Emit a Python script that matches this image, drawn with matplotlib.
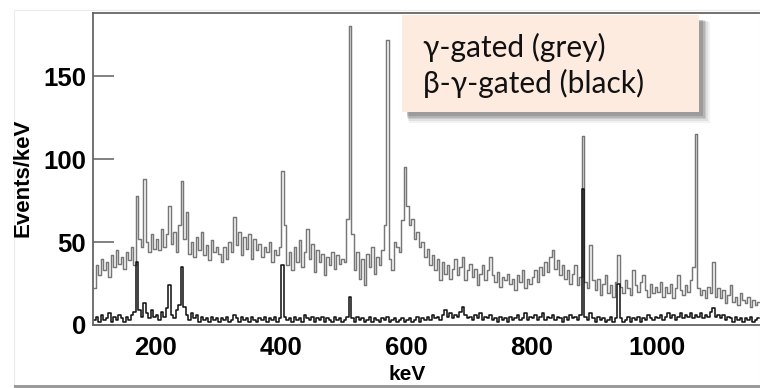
import numpy as np
import matplotlib
matplotlib.use("Agg")
import matplotlib.pyplot as plt
from matplotlib.patches import Rectangle

# ---- data (bin centres every 4 keV, from 102 to 1162 keV) ----
energy_start = 102
energy_step = 4

grey_counts = [
    # 100-200
    22, 36, 30, 40, 33, 38, 29, 42, 35, 45, 37, 41, 34, 44, 39, 47, 36, 78, 52, 47, 88, 50, 44, 55, 46,
    # 200-300
    52, 45, 58, 47, 55, 72, 49, 56, 44, 60, 87, 52, 68, 43, 50, 41, 53, 45, 56, 42, 48, 39, 51, 44, 47,
    # 300-400
    43, 38, 47, 40, 50, 44, 65, 48, 56, 42, 53, 46, 55, 40, 52, 45, 49, 41, 47, 44, 50, 38, 45, 42, 47,
    # 400-500
    93, 60, 36, 44, 33, 47, 38, 51, 35, 44, 58, 40, 49, 32, 45, 38, 43, 30, 41, 36, 44, 34, 42, 37, 40,
    # 500-600
    38, 64, 180, 55, 33, 44, 28, 40, 24, 43, 35, 47, 31, 41, 36, 45, 60, 172, 40, 33, 50, 47, 44, 63, 95,
    # 600-700
    72, 60, 64, 52, 56, 47, 50, 41, 46, 36, 42, 33, 40, 27, 38, 31, 36, 28, 34, 40, 30, 35, 41, 27, 33,
    # 700-800
    37, 29, 34, 24, 31, 36, 27, 33, 41, 30, 26, 32, 23, 29, 27, 31, 25, 28, 21, 30, 26, 33, 22, 28, 25,
    # 800-900
    29, 33, 26, 35, 30, 38, 32, 41, 45, 34, 39, 30, 36, 28, 33, 25, 31, 36, 24, 29, 114, 26, 22, 48, 27,
    # 900-1000
    21, 28, 18, 25, 30, 19, 24, 17, 26, 42, 23, 19, 27, 22, 18, 33, 24, 20, 26, 30, 21, 17, 25, 19, 23,
    # 1000-1100
    20, 26, 17, 23, 19, 25, 16, 22, 30, 21, 18, 24, 20, 27, 35, 115, 22, 18, 21, 16, 23, 19, 38, 17, 22,
    # 1100-1164
    16, 21, 13, 18, 24, 14, 17, 12, 19, 15, 13, 17, 11, 15, 12, 14,
]

black_counts = [
    # 100-200
    3, 5, 2, 6, 3, 4, 7, 2, 5, 3, 6, 4, 2, 5, 3, 6, 8, 38, 9, 5, 13, 7, 4, 9, 5,
    # 200-300
    6, 3, 8, 5, 10, 24, 6, 4, 9, 12, 35, 11, 6, 3, 7, 4, 6, 2, 5, 3, 4, 2, 5, 3, 4,
    # 300-400
    2, 4, 3, 5, 2, 3, 6, 4, 2, 5, 3, 4, 2, 5, 3, 2, 4, 3, 5, 2, 4, 3, 5, 2, 4,
    # 400-500
    36, 5, 3, 4, 2, 5, 3, 4, 2, 6, 4, 3, 5, 2, 4, 3, 5, 2, 4, 3, 2, 5, 3, 4, 2,
    # 500-600
    3, 5, 17, 4, 2, 5, 3, 4, 2, 3, 5, 2, 4, 3, 2, 4, 3, 5, 2, 3, 4, 2, 3, 4, 2,
    # 600-700
    3, 4, 2, 3, 5, 2, 4, 3, 5, 3, 6, 4, 5, 3, 6, 9, 5, 7, 4, 6, 5, 8, 11, 6, 4,
    # 700-800
    5, 3, 6, 4, 7, 3, 5, 4, 6, 3, 4, 2, 5, 3, 4, 2, 5, 3, 4, 6, 3, 4, 7, 3, 5,
    # 800-900
    4, 6, 3, 5, 7, 3, 5, 4, 6, 3, 5, 4, 2, 5, 3, 6, 4, 5, 3, 6, 82, 5, 3, 7, 4,
    # 900-1000
    2, 5, 3, 4, 2, 3, 5, 2, 4, 25, 4, 2, 3, 5, 2, 4, 3, 5, 2, 4, 3, 6, 4, 3, 5,
    # 1000-1100
    4, 6, 3, 5, 7, 4, 6, 3, 5, 7, 4, 6, 5, 7, 4, 6, 5, 7, 4, 6, 5, 8, 10, 5, 6,
    # 1100-1164
    4, 6, 3, 5, 4, 2, 5, 3, 4, 2, 4, 3, 5, 2, 3, 4,
]

y_ticks = [0, 50, 100, 150]
x_ticks = [200, 400, 600, 800, 1000]
legend_lines = ["γ-gated (grey)", "β-γ-gated (black)"]

energy = energy_start + energy_step * np.arange(len(grey_counts))

# ---- figure ----
W, H = 760, 388
fig = plt.figure(figsize=(W / 100, H / 100), dpi=100)

# faint outer frame of the original slide picture
fig.patches.append(Rectangle((14 / W, 2 / H), 1 - 14 / W, (378 - 2) / H,
                             transform=fig.transFigure, fill=False,
                             edgecolor="#ececec", lw=0.8, zorder=0))
fig.patches.append(Rectangle((14 / W, 0), 1 - 14 / W, 3 / H,
                             transform=fig.transFigure, facecolor="#9a9a9a",
                             edgecolor="none", zorder=0))

ax = fig.add_axes([93 / W, (H - 325) / H, 1 - 93 / W, (325 - 13) / H])
ax.step(energy, grey_counts, where="mid", color="#777777", lw=1.05)
ax.step(energy, black_counts, where="mid", color="#0d0d0d", lw=1.1)

ax.set_xlim(100, 1164)
ax.set_ylim(0, 188)
ax.set_xticks(x_ticks)
ax.set_yticks(y_ticks)

for s in ["left", "bottom", "top"]:
    ax.spines[s].set_color("#666666")
    ax.spines[s].set_linewidth(1.3)
ax.spines["right"].set_visible(False)

ax.tick_params(axis="y", direction="in", length=15, width=1.3, color="#777777",
               pad=5, labelsize=18.5)
ax.tick_params(axis="x", length=0, pad=8, labelsize=18.5)
for lab in ax.get_xticklabels() + ax.get_yticklabels():
    lab.set_fontfamily("Liberation Sans")
    lab.set_fontweight("bold")

fig.text(23 / W, 1 - 178 / H, "Events/keV", rotation=90, ha="center", va="center",
         fontsize=16, fontweight="bold", family="Liberation Sans")
fig.text(407 / W, 1 - 375 / H, "keV", ha="center", va="center",
         fontsize=15, fontweight="bold", family="Liberation Sans")

# legend box with soft shadow
bx0, by0, bx1, by1 = 402, 15, 699, 112
for i, a in enumerate([0.05, 0.07, 0.09, 0.11, 0.13]):
    off = 8 - i * 1.2
    grow = 3 - i * 0.6
    fig.patches.append(Rectangle(((bx0 + off - grow + 2) / W, (H - by1 - off - grow) / H),
                                 (bx1 - bx0 + 2 * grow - 2) / W, (by1 - by0 + 2 * grow - 2) / H,
                                 transform=fig.transFigure, facecolor="black",
                                 edgecolor="none", alpha=a, zorder=5))
fig.patches.append(Rectangle((bx0 / W, (H - by1) / H), (bx1 - bx0) / W, (by1 - by0) / H,
                             transform=fig.transFigure, facecolor="#fdebe0",
                             edgecolor="none", zorder=6))
fig.text(423 / W, 1 - 47 / H, legend_lines[0], ha="left", va="center",
         fontsize=21.5, family=["Lato", "DejaVu Sans"], color="#111111", zorder=7)
fig.text(423 / W, 1 - 83 / H, legend_lines[1], ha="left", va="center",
         fontsize=21.5, family=["Lato", "DejaVu Sans"], color="#111111", zorder=7)

fig.savefig("out.png", dpi=100)
